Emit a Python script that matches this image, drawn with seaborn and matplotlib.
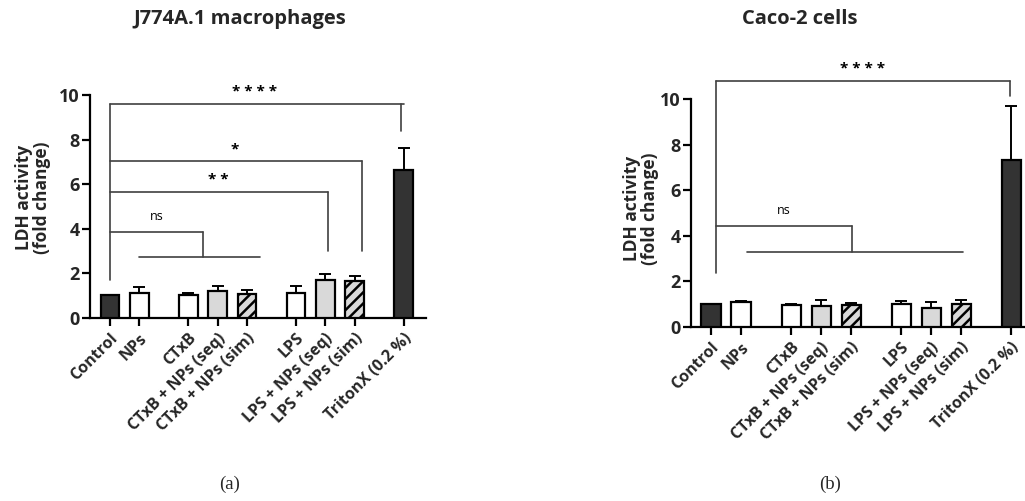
import numpy as np
import pandas as pd
import matplotlib
matplotlib.use("Agg")
import matplotlib.pyplot as plt
import seaborn as sns

# ---------------- data ----------------
categories = ["Control", "NPs", "CTxB", "CTxB + NPs (seq)", "CTxB + NPs (sim)",
              "LPS", "LPS + NPs (seq)", "LPS + NPs (sim)", "TritonX (0.2 %)"]
group_sizes = [2, 3, 3, 1]

j774_mean = [1.0, 1.12, 1.0, 1.2, 1.08, 1.12, 1.7, 1.63, 6.62]
j774_err = [0.0, 0.25, 0.12, 0.22, 0.18, 0.32, 0.25, 0.22, 1.0]

caco_mean = [1.0, 1.08, 0.95, 0.92, 0.95, 1.0, 0.82, 1.0, 7.35]
caco_err = [0.0, 0.07, 0.05, 0.24, 0.1, 0.12, 0.25, 0.17, 2.37]

titles = ["J774A.1 macrophages", "Caco-2 cells"]
captions = ["(a)", "(b)"]
ylabel = "LDH activity\n(fold change)"

# ---------------- styling ----------------
sns.set_theme(style="ticks")
plt.rcParams["font.family"] = ["Open Sans", "DejaVu Sans"]
plt.rcParams["hatch.linewidth"] = 1.8
plt.rcParams["hatch.color"] = "black"

DARK, WHITE, LIGHT = "#333333", "#ffffff", "#d9d9d9"
fills = {"Control": DARK, "NPs": WHITE, "CTxB": WHITE,
         "CTxB + NPs (seq)": LIGHT, "CTxB + NPs (sim)": LIGHT,
         "LPS": WHITE, "LPS + NPs (seq)": LIGHT, "LPS + NPs (sim)": LIGHT,
         "TritonX (0.2 %)": DARK}
hatched = {"CTxB + NPs (sim)", "LPS + NPs (sim)"}

# bar positions derived from group structure
gap = 0.67
pos = []
x = 0.0
for g in group_sizes:
    for _ in range(g):
        pos.append(round(x, 3))
        x += 1
    x += gap

fig = plt.figure(figsize=(10.25, 5.01), dpi=100)
ax_rects = [[0.0878, 0.3659, 0.3275, 0.4445],
            [0.6741, 0.3479, 0.3254, 0.4539]]
xlims = [(-0.68, 10.76), (-0.67, 10.45)]
labelpads = [6, 1]
label_y = [0.54, 0.52]
LINE = "#404040"


def draw_panel(ax, mean, err, lp, ly):
    df = pd.DataFrame({"pos": pos, "val": mean, "cat": categories})
    sns.barplot(data=df, x="pos", y="val", hue="cat", palette=fills,
                hue_order=categories, dodge=False, native_scale=True,
                width=0.64, edgecolor="black", linewidth=1.6,
                errorbar=None, legend=False, ax=ax, zorder=3)
    for p in ax.patches:
        cx = p.get_x() + p.get_width() / 2
        i = int(np.argmin([abs(cx - q) for q in pos]))
        if categories[i] in hatched:
            p.set_hatch("///")
        p.set_edgecolor("black")
    e = np.array(err)
    m = e > 0
    ax.errorbar(np.array(pos)[m], np.array(mean)[m],
                yerr=[np.zeros(m.sum()), e[m]], fmt="none", ecolor="black",
                elinewidth=1.4, capsize=4.5, capthick=1.4, zorder=2)
    ax.set_ylim(0, 10)
    ax.set_yticks([0, 2, 4, 6, 8, 10])
    ax.set_xticks(pos)
    ax.set_xticklabels(categories, rotation=45, ha="right",
                       rotation_mode="anchor", fontweight="bold", fontsize=11.5)
    for t in ax.get_yticklabels():
        t.set_fontweight("bold")
        t.set_fontsize(13)
    ax.set_xlabel("")
    ax.set_ylabel(ylabel, fontweight="bold", fontsize=12.5, linespacing=1.0,
                  labelpad=lp)
    ax.yaxis.label.set_y(ly)
    sns.despine(ax=ax)
    for s in ("left", "bottom"):
        ax.spines[s].set_linewidth(1.6)
        ax.spines[s].set_color("black")
    ax.tick_params(axis="both", width=1.6, length=6, color="black", pad=1.5)
    ax.tick_params(axis="x", pad=3)


def hline(ax, x0, x1, y):
    ax.plot([x0, x1], [y, y], color=LINE, lw=1.2, clip_on=False, zorder=4)


def vline(ax, x0, y0, y1):
    ax.plot([x0, x0], [y0, y1], color=LINE, lw=1.2, clip_on=False, zorder=4)


def label(ax, xc, y, s, size=11, weight="bold"):
    ax.text(xc, y, s, ha="center", va="center", fontsize=size,
            fontweight=weight, color="black", clip_on=False, zorder=5)


axes = []
for k in range(2):
    ax = fig.add_axes(ax_rects[k])
    axes.append(ax)
    draw_panel(ax, [j774_mean, caco_mean][k], [j774_err, caco_err][k],
               labelpads[k], label_y[k])
    ax.set_xlim(*xlims[k])

# ---- significance brackets, panel (a) ----
ax = axes[0]
x0 = pos[0]
vline(ax, x0, 1.69, 9.6)
hline(ax, x0, pos[8], 9.6)
vline(ax, pos[8] - 0.08, 8.38, 9.6)
label(ax, 4.94, 10.12, "* * * *")
hline(ax, x0, pos[7] + 0.25, 7.05)
vline(ax, pos[7] + 0.25, 3.0, 7.05)
label(ax, 4.24, 7.55, "*")
hline(ax, x0, pos[6] + 0.1, 5.66)
vline(ax, pos[6] + 0.1, 3.0, 5.66)
label(ax, 3.69, 6.2, "* *")
hline(ax, x0, 3.18, 3.85)
vline(ax, 3.18, 2.71, 3.85)
hline(ax, pos[1], pos[4] + 0.45, 2.71)
label(ax, 1.59, 4.55, "ns", size=9, weight="normal")

# ---- significance brackets, panel (b) ----
ax = axes[1]
x0 = pos[0] + 0.18
vline(ax, x0, 2.38, 10.79)
hline(ax, x0, pos[8] - 0.05, 10.79)
vline(ax, pos[8] - 0.05, 10.15, 10.79)
label(ax, 5.06, 11.35, "* * * *")
hline(ax, x0, pos[4] + 0.02, 4.44)
vline(ax, pos[4] + 0.02, 3.3, 4.44)
hline(ax, pos[1] + 0.2, pos[7] + 0.05, 3.3)
label(ax, 2.43, 5.1, "ns", size=9, weight="normal")

# ---- titles and captions ----
fig.text(240 / 1025, 1 - 19 / 501, titles[0], ha="center", va="center",
         fontsize=14.5, fontweight="bold")
fig.text(800 / 1025, 1 - 19 / 501, titles[1], ha="center", va="center",
         fontsize=14.5, fontweight="bold")
fig.text(230 / 1025, 1 - 484 / 501, captions[0], ha="center", va="center",
         fontsize=13.5, family=["Liberation Serif", "DejaVu Serif"])
fig.text(830 / 1025, 1 - 484 / 501, captions[1], ha="center", va="center",
         fontsize=13.5, family=["Liberation Serif", "DejaVu Serif"])

fig.savefig("out.png", dpi=100, facecolor="white")
